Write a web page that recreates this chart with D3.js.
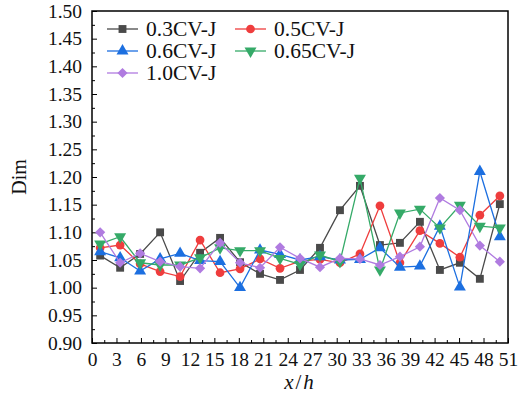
<!DOCTYPE html>
<html>
<head>
<meta charset="utf-8">
<script src="https://cdn.jsdelivr.net/npm/d3@7"></script>
<style>
body { margin: 0; background: #fff; }
text { font-family: "Liberation Serif", "DejaVu Serif", serif; }
</style>
</head>
<body>
<div id="chart1"></div>
<script>
// Data
var xValues = [1, 3.45, 5.9, 8.35, 10.8, 13.25, 15.7, 18.15, 20.6, 23.05, 25.5,
	27.95, 30.4, 32.85, 35.3, 37.75, 40.2, 42.65, 45.1, 47.55, 50];
var seriesNames = ["0.3CV-J", "0.5CV-J", "0.6CV-J", "0.65CV-J", "1.0CV-J"];
var cv03 = [1.058, 1.036, 1.061, 1.100, 1.012, 1.063, 1.090, 1.046, 1.025, 1.014, 1.032,
	1.072, 1.140, 1.184, 1.077, 1.081, 1.119, 1.032, 1.045, 1.016, 1.151];
var cv05 = [1.072, 1.077, 1.043, 1.029, 1.020, 1.086, 1.027, 1.034, 1.052, 1.035, 1.048,
	1.051, 1.045, 1.061, 1.148, 1.045, 1.103, 1.080, 1.055, 1.131, 1.166];
var cv06 = [1.065, 1.054, 1.030, 1.052, 1.062, 1.049, 1.047, 1.000, 1.068, 1.060, 1.050,
	1.056, 1.050, 1.051, 1.072, 1.037, 1.039, 1.111, 1.001, 1.210, 1.092];
var cv065 = [1.079, 1.092, 1.045, 1.041, 1.041, 1.054, 1.072, 1.067, 1.067, 1.053, 1.042,
	1.059, 1.047, 1.198, 1.032, 1.135, 1.142, 1.108, 1.149, 1.111, 1.108];
var cv10 = [1.100, 1.045, 1.062, 1.047, 1.038, 1.035, 1.081, 1.045, 1.036, 1.073, 1.053,
	1.037, 1.053, 1.052, 1.041, 1.056, 1.074, 1.162, 1.140, 1.076, 1.047];
var xTicks = [0, 3, 6, 9, 12, 15, 18, 21, 24, 27, 30, 33, 36, 39, 42, 45, 48, 51];
var yTicks = [0.90, 0.95, 1.00, 1.05, 1.10, 1.15, 1.20, 1.25, 1.30, 1.35, 1.40, 1.45, 1.50];

var allSeries = [cv03, cv05, cv06, cv065, cv10];
var colors = ["#4a4a4a", "#ef3d3d", "#1c6fe0", "#35aa68", "#b07be0"];
// diamond = square turned 45 degrees
var shapes = [d3.symbolSquare, d3.symbolCircle, d3.symbolTriangle, d3.symbolTriangle, d3.symbolSquare];
var symSizes = [62, 60, 62, 62, 52];
var rotations = [0, 0, 0, 180, 45];

var cfg = {
	width : 524,
	height : 401,
	left : 92,
	right : 508,
	top : 11,
	bottom : 343
};

var svg1 = d3.select("#chart1").append("svg")
	.attr("width", cfg.width)
	.attr("height", cfg.height);

var x = d3.scaleLinear().domain([0, 51]).range([cfg.left, cfg.right]);
var y = d3.scaleLinear().domain([0.90, 1.50]).range([cfg.bottom, cfg.top]);

// minor ticks
var xMinor = xTicks.slice(0, -1).map(function(d){ return d + 1.5; });
var yMinor = yTicks.slice(0, -1).map(function(d){ return d + 0.025; });

svg1.append("g")
	.attr("transform", "translate(0," + cfg.bottom + ")")
	.call(d3.axisBottom(x).tickValues(xMinor).tickSize(-3).tickFormat(""))
	.call(function(g){ g.select(".domain").remove(); });
svg1.append("g")
	.attr("transform", "translate(" + cfg.left + ",0)")
	.call(d3.axisLeft(y).tickValues(yMinor).tickSize(-3).tickFormat(""))
	.call(function(g){ g.select(".domain").remove(); });

var xAxis = svg1.append("g")
	.attr("transform", "translate(0," + cfg.bottom + ")")
	.call(d3.axisBottom(x).tickValues(xTicks).tickSize(-5).tickPadding(9).tickFormat(d3.format("d")));
xAxis.select(".domain").remove();
xAxis.selectAll("text").attr("font-size", 19.5).attr("fill", "#111").attr("font-family", null);

var yAxis = svg1.append("g")
	.attr("transform", "translate(" + cfg.left + ",0)")
	.call(d3.axisLeft(y).tickValues(yTicks).tickSize(-5).tickPadding(10).tickFormat(d3.format(".2f")));
yAxis.select(".domain").remove();
yAxis.selectAll("text").attr("font-size", 19.5).attr("fill", "#111").attr("font-family", null);

svg1.selectAll(".tick line").attr("stroke", "#000").attr("stroke-width", 1);

// frame
svg1.append("rect")
	.attr("x", cfg.left).attr("y", cfg.top)
	.attr("width", cfg.right - cfg.left).attr("height", cfg.bottom - cfg.top)
	.attr("fill", "none").attr("stroke", "#000").attr("stroke-width", 1.5);

// series
var line = d3.line()
	.x(function(d, i){ return x(xValues[i]); })
	.y(function(d){ return y(d); });

allSeries.forEach(function(s, k){
	var g = svg1.append("g");
	g.append("path").datum(s)
		.attr("d", line)
		.attr("fill", "none")
		.attr("stroke", colors[k])
		.attr("stroke-width", 1.3);
	g.selectAll("path.pt").data(s).enter().append("path")
		.attr("class", "pt")
		.attr("d", d3.symbol().type(shapes[k]).size(symSizes[k]))
		.attr("transform", function(d, i){ return "translate(" + x(xValues[i]) + "," + y(d) + ") rotate(" + rotations[k] + ")"; })
		.attr("fill", colors[k]);
});

// legend
var legendPos = [[107, 29], [235, 29], [107, 51], [235, 51], [107, 73]];
seriesNames.forEach(function(name, k){
	var lg = svg1.append("g")
		.attr("transform", "translate(" + legendPos[k][0] + "," + legendPos[k][1] + ")");
	lg.append("line").attr("x1", 0).attr("x2", 31).attr("y1", 0).attr("y2", 0)
		.attr("stroke", colors[k]).attr("stroke-width", 1.3);
	lg.append("path")
		.attr("d", d3.symbol().type(shapes[k]).size(symSizes[k]))
		.attr("transform", "translate(15.5,0) rotate(" + rotations[k] + ")")
		.attr("fill", colors[k]);
	lg.append("text").attr("x", 39).attr("y", 7)
		.attr("font-size", 21.5).attr("fill", "#111")
		.text(name);
});

// axis titles
svg1.append("text")
	.attr("x", (cfg.left + cfg.right) / 2).attr("y", 389)
	.attr("text-anchor", "middle").attr("font-size", 21).attr("fill", "#111")
	.attr("letter-spacing", 2)
	.html('<tspan font-style="italic">x</tspan>/<tspan font-style="italic">h</tspan>');
svg1.append("text")
	.attr("transform", "translate(26," + (cfg.top + cfg.bottom) / 2 + ") rotate(-90)")
	.attr("text-anchor", "middle").attr("font-size", 20).attr("fill", "#111")
	.text("Dim");
</script>
</body>
</html>
